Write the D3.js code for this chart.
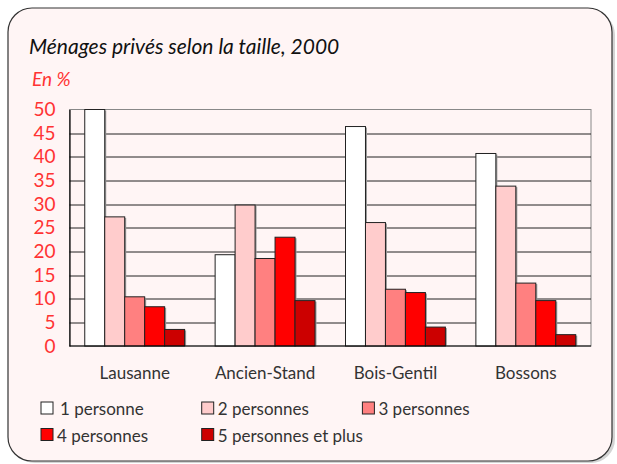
<!DOCTYPE html>
<html>
<head>
<meta charset="utf-8">
<script src="https://cdn.jsdelivr.net/npm/d3@7"></script>
<style>
  body { margin: 0; background: #fff; }
  svg { display: block; font-family: Lato, "Open Sans", sans-serif; }
</style>
</head>
<body>
<div id="chart"></div>
<script>
// data
var categories = ["Lausanne", "Ancien-Stand", "Bois-Gentil", "Bossons"];
var seriesNames = ["1 personne", "2 personnes", "3 personnes", "4 personnes", "5 personnes et plus"];
var seriesColors = ["#ffffff", "#ffcccc", "#ff8080", "#ff0000", "#cc0000"];
var values = [
  [50.0, 27.3, 10.4, 8.3, 3.5],   // Lausanne
  [19.3, 29.8, 18.5, 23.0, 9.6],  // Ancien-Stand
  [46.4, 26.1, 12.0, 11.3, 4.0],  // Bois-Gentil
  [40.7, 33.8, 13.3, 9.6, 2.4]    // Bossons
];
var yTicks = [0, 5, 10, 15, 20, 25, 30, 35, 40, 45, 50];

var W = 617, H = 464;
var margin = {top: 109.5, right: 26, bottom: 118, left: 69.5};
var width = W - margin.left - margin.right;
var height = H - margin.top - margin.bottom;

var svg = d3.select("#chart").append("svg")
  .attr("width", W)
  .attr("height", H);

// frame with shadow
svg.append("rect")
  .attr("x", 11).attr("y", 11).attr("width", 604).attr("height", 452)
  .attr("rx", 24).attr("fill", "#d4d4d4");
svg.append("rect")
  .attr("x", 8).attr("y", 8).attr("width", 604).attr("height", 453)
  .attr("rx", 24).attr("fill", "#fff5f5")
  .attr("stroke", "#333").attr("stroke-width", 1.2);

svg.append("text")
  .attr("x", 29).attr("y", 54)
  .attr("font-size", 21).attr("font-style", "italic")
  .attr("fill", "#111")
  .text("Ménages privés selon la taille, 2000");

svg.append("text")
  .attr("x", 32).attr("y", 86)
  .attr("font-size", 19).attr("font-style", "italic")
  .attr("fill", "#ff3333")
  .text("En %");

var g = svg.append("g")
  .attr("transform", "translate(" + margin.left + "," + margin.top + ")");

var x0 = d3.scaleBand().domain(categories).range([0, width]).paddingInner(0).paddingOuter(0);
var groupW = x0.bandwidth() * 0.766;
var x1 = d3.scaleBand().domain(seriesNames).range([0, groupW]).padding(0);
var y = d3.scaleLinear().domain([0, 50]).range([height, 0]);

// plot border (top/right gray)
g.append("rect")
  .attr("width", width).attr("height", height)
  .attr("fill", "none").attr("stroke", "#888").attr("stroke-width", 1);

// gridlines
g.append("g")
  .selectAll("line")
  .data(yTicks.filter(function(d) { return d > 0 && d < 50; }))
  .enter().append("line")
  .attr("x1", 0).attr("x2", width)
  .attr("y1", function(d) { return Math.round(y(d)) + 0.5; })
  .attr("y2", function(d) { return Math.round(y(d)) + 0.5; })
  .attr("stroke", "#222").attr("stroke-width", 1);

// y axis
var yAxis = g.append("g")
  .call(d3.axisLeft(y).tickValues(yTicks).tickSize(0).tickPadding(14));
yAxis.select(".domain").attr("stroke", "#000").attr("stroke-width", 1.2);
yAxis.selectAll("text")
  .attr("fill", "#ff3333")
  .attr("font-size", 19)
  .attr("font-family", "Lato, sans-serif");

// bars
var groups = g.append("g").selectAll("g")
  .data(values)
  .enter().append("g")
  .attr("transform", function(d, i) {
    return "translate(" + (x0(categories[i]) + (x0.bandwidth() - groupW) / 2) + ",0)";
  });

groups.selectAll("rect.shadow")
  .data(function(d) { return d; })
  .enter().append("rect")
  .attr("class", "shadow")
  .attr("x", function(d, i) { return x1(seriesNames[i]) + 1.5; })
  .attr("y", function(d) { return y(d) + 1; })
  .attr("width", x1.bandwidth())
  .attr("height", function(d) { return height - y(d) - 1; })
  .attr("fill", "#999");

groups.selectAll("rect.bar")
  .data(function(d) { return d; })
  .enter().append("rect")
  .attr("class", "bar")
  .attr("x", function(d, i) { return x1(seriesNames[i]); })
  .attr("y", function(d) { return y(d); })
  .attr("width", x1.bandwidth())
  .attr("height", function(d) { return height - y(d); })
  .attr("fill", function(d, i) { return seriesColors[i]; })
  .attr("stroke", "#222").attr("stroke-width", 1);

// baseline
g.append("line")
  .attr("x1", 0).attr("x2", width)
  .attr("y1", height).attr("y2", height)
  .attr("stroke", "#000").attr("stroke-width", 1.2);

// x labels
g.append("g").selectAll("text")
  .data(categories)
  .enter().append("text")
  .attr("x", function(d) { return x0(d) + x0.bandwidth() / 2; })
  .attr("y", height + 33)
  .attr("text-anchor", "middle")
  .attr("font-size", 17)
  .attr("fill", "#333")
  .text(function(d) { return d; });

// legend
var legend = svg.append("g").selectAll("g")
  .data(seriesNames)
  .enter().append("g")
  .attr("transform", function(d, i) {
    return "translate(" + (41 + (i % 3) * 160.7) + "," + (402 + Math.floor(i / 3) * 26.5) + ")";
  });
legend.append("rect")
  .attr("width", 12).attr("height", 12)
  .attr("fill", function(d, i) { return seriesColors[i]; })
  .attr("stroke", "#222").attr("stroke-width", 1);
legend.append("text")
  .attr("x", function(d, i) { return i == 0 ? 19 : 16; })
  .attr("y", 13)
  .attr("font-size", 17)
  .attr("fill", "#333")
  .text(function(d) { return d; });
</script>
</body>
</html>
